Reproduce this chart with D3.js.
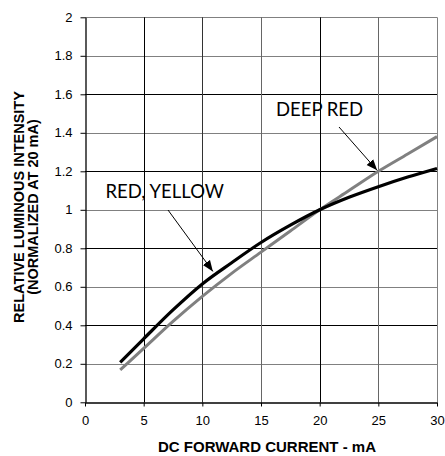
<!DOCTYPE html>
<html><head><meta charset="utf-8">
<script src="https://cdn.jsdelivr.net/npm/d3@7"></script>
<style>body{margin:0;background:#fff}svg{display:block}</style>
</head><body>
<svg id="c" width="445" height="456"></svg>
<script>
const current = [3, 5, 7.5, 10, 12.5, 15, 17.5, 20, 22.5, 25, 27.5, 30];
const redYellow = [0.208, 0.33, 0.48, 0.615, 0.725, 0.83, 0.92, 1.0, 1.065, 1.12, 1.17, 1.215];
const deepRed = [0.168, 0.28, 0.42, 0.55, 0.67, 0.78, 0.89, 1.0, 1.1, 1.2, 1.29, 1.38];
const xTicks = [0, 5, 10, 15, 20, 25, 30];
const yTicks = [0, 0.2, 0.4, 0.6, 0.8, 1, 1.2, 1.4, 1.6, 1.8, 2];

const svg = d3.select("#c");
const L = 85, R = 437, T = 17.3, B = 402.3;
const x = d3.scaleLinear().domain([0, 30]).range([L, R]);
const y = d3.scaleLinear().domain([0, 2]).range([B, T]);

// gridlines
const hCol = v => ([0.4,0.8,1.2,1.6].some(t=>Math.abs(t-v)<1e-6) ? "#000" : "#808080");
const vColMap = {0:"#000",5:"#000",10:"#333",15:"#666",20:"#000",25:"#666",30:"#808080"};
svg.append("g").selectAll("line").data(yTicks.filter(v=>v>0)).join("line")
  .attr("x1", L).attr("x2", R).attr("y1", d=>Math.round(y(d))+0.5).attr("y2", d=>Math.round(y(d))+0.5)
  .attr("stroke", hCol).attr("stroke-width", 1);
svg.append("g").selectAll("line").data(xTicks.filter(v=>v>0)).join("line")
  .attr("y1", T).attr("y2", B).attr("x1", d=>Math.round(x(d))+0.5).attr("x2", d=>Math.round(x(d))+0.5)
  .attr("stroke", d=>vColMap[d]).attr("stroke-width", 1);

// axes
const fontAx = "'Liberation Sans', Arial, sans-serif";
const yAxis = svg.append("g").attr("transform", `translate(${Math.round(L)+0.5},0)`)
  .call(d3.axisLeft(y).tickValues(yTicks).tickSize(5).tickPadding(8).tickSizeOuter(0).tickFormat(d=>d3.format("")(+d.toFixed(1))));
const xAxis = svg.append("g").attr("transform", `translate(0,${Math.round(B)+0.5})`)
  .call(d3.axisBottom(x).tickValues(xTicks).tickSize(4).tickPadding(9).tickSizeOuter(0));
[yAxis, xAxis].forEach(a => {
  a.selectAll("path").attr("stroke", "#000").attr("stroke-width", 1.3);
  a.selectAll("line").attr("stroke", "#000");
  a.selectAll("text").attr("font-family", fontAx).attr("font-size", 13).attr("fill", "#000");
});

// curves
const line = d3.line().x((d,i)=>x(current[i])).y(d=>y(d)).curve(d3.curveMonotoneX);
svg.append("path").datum(deepRed).attr("d", line).attr("fill","none").attr("stroke","#808080").attr("stroke-width",3);
svg.append("path").datum(redYellow).attr("d", line).attr("fill","none").attr("stroke","#000").attr("stroke-width",3.2);

// annotations
const defs = svg.append("defs");
defs.append("marker").attr("id","ah").attr("viewBox","0 0 10 10").attr("refX",10).attr("refY",5)
  .attr("markerWidth",11).attr("markerHeight",11).attr("markerUnits","userSpaceOnUse").attr("orient","auto")
  .append("path").attr("d","M0,1 L10,5 L0,9 Z").attr("fill","#000");
const fontAnn = "Lato, 'Open Sans', sans-serif";
svg.append("text").attr("x",105.5).attr("y",198).text("RED, YELLOW")
  .attr("font-family",fontAnn).attr("font-size",18.5).attr("fill","#000");
svg.append("text").attr("x",276).attr("y",116).text("DEEP RED")
  .attr("font-family",fontAnn).attr("font-size",18.5).attr("fill","#000");
svg.append("line").attr("x1",168).attr("y1",210).attr("x2",x(10.9)).attr("y2",y(0.68))
  .attr("stroke","#000").attr("stroke-width",1).attr("marker-end","url(#ah)");
svg.append("line").attr("x1",339).attr("y1",127).attr("x2",x(24.9)).attr("y2",y(1.205))
  .attr("stroke","#000").attr("stroke-width",1).attr("marker-end","url(#ah)");

// axis titles
svg.append("text").attr("x",267).attr("y",451.5).attr("text-anchor","middle")
  .attr("font-family",fontAx).attr("font-weight","bold").attr("font-size",15).text("DC FORWARD CURRENT - mA");
const yt = svg.append("text").attr("transform","translate(24,207) rotate(-90)").attr("text-anchor","middle")
  .attr("font-family",fontAx).attr("font-weight","bold").attr("font-size",14.5);
yt.append("tspan").attr("x",0).attr("y",0).text("RELATIVE LUMINOUS INTENSITY");
yt.append("tspan").attr("x",0).attr("y",14).text("(NORMALIZED AT 20 mA)");
</script>
</body></html>
